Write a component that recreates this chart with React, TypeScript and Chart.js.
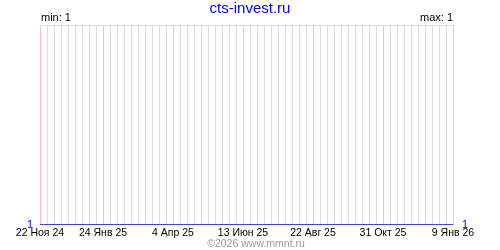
import React, { useEffect, useRef } from "react";
import { Chart, registerables } from "chart.js";

Chart.register(...registerables);

const titleText = "cts-invest.ru";
const footerText = "©2026 www.mmnt.ru";
const tickLabels = ["22 Ноя 24", "24 Янв 25", "4 Апр 25", "13 Июн 25", "22 Авг 25", "31 Окт 25", "9 Янв 26"];
const tickDays = [0, 63, 133, 203, 273, 343, 413];
const seriesDays = [0, 413];
const seriesValues = [1, 1];
const minValue = 1;
const maxValue = 1;

const FONT = "'Liberation Sans', Arial, sans-serif";

export default function App() {
  const ref = useRef<HTMLCanvasElement | null>(null);
  useEffect(() => {
    const canvas = ref.current;
    if (!canvas) return;
    const textPlugin = {
      id: "texts",
      afterDraw(chart: any) {
        const { ctx, chartArea } = chart;
        ctx.save();
        ctx.textBaseline = "alphabetic";
        ctx.fillStyle = "#0000ff";
        ctx.font = `15px ${FONT}`;
        ctx.textAlign = "center";
        ctx.fillText(titleText, 250, 13);
        ctx.fillStyle = "#000000";
        ctx.font = `11px ${FONT}`;
        ctx.textAlign = "left";
        ctx.fillText(`min: ${minValue}`, chartArea.left + 1, 21);
        ctx.textAlign = "right";
        ctx.fillText(`max: ${maxValue}`, chartArea.right, 21);
        ctx.fillStyle = "#999999";
        ctx.font = `10.5px ${FONT}`;
        ctx.textAlign = "center";
        ctx.fillText(footerText, 256, 247);
        ctx.restore();
      },
    };
    const yTick = (v: any) => (v === 1 ? "1" : "");
    const chart = new Chart(canvas, {
      type: "line",
      data: {
        datasets: [
          {
            data: seriesDays.map((d, i) => ({ x: d, y: seriesValues[i] })),
            borderColor: "#0000ff",
            borderWidth: 1.5,
            pointRadius: 0,
            fill: false,
            tension: 0,
            yAxisID: "y",
          },
        ],
      },
      options: {
        animation: false,
        responsive: false,
        events: [],
        layout: { padding: { top: 25, bottom: 0, left: 0, right: 0 } },
        plugins: { legend: { display: false }, tooltip: { enabled: false }, title: { display: false } },
        scales: {
          x: {
            type: "linear",
            min: 0,
            max: 413,
            border: { display: false },
            grid: {
              drawTicks: false,
              color: (c: any) => (tickDays.includes(c.tick?.value) ? "#ffc0c0" : "#dddddd"),
            },
            ticks: {
              stepSize: 7,
              autoSkip: false,
              maxRotation: 0,
              padding: 2,
              color: "#000000",
              font: { family: FONT, size: 10.5 },
              callback: (v: any) => {
                const i = tickDays.indexOf(v);
                return i >= 0 ? tickLabels[i] : "";
              },
            },
            afterFit: (s: any) => {
              s.height = 25;
            },
          },
          y: {
            position: "left",
            min: 1,
            max: 2,
            border: { display: false },
            grid: {
              drawTicks: false,
              color: (c: any) => (c.tick?.value === 2 ? "#dddddd" : "rgba(0,0,0,0)"),
            },
            ticks: { stepSize: 1, padding: 7, color: "#0000ff", font: { family: FONT, size: 11 }, callback: yTick },
            afterFit: (s: any) => {
              s.width = 40;
            },
          },
          y2: {
            position: "right",
            min: 1,
            max: 2,
            border: { display: false },
            grid: { display: false, drawTicks: false },
            ticks: { stepSize: 1, padding: 9, color: "#0000ff", font: { family: FONT, size: 11 }, callback: yTick },
            afterFit: (s: any) => {
              s.width = 47;
            },
          },
        },
      },
      plugins: [textPlugin],
    });
    return () => chart.destroy();
  }, []);
  return (
    <div style={{ position: "absolute", left: 0, top: 0, width: 500, height: 250, background: "#fff" }}>
      <canvas ref={ref} width={500} height={250} style={{ width: 500, height: 250 }} />
    </div>
  );
}
